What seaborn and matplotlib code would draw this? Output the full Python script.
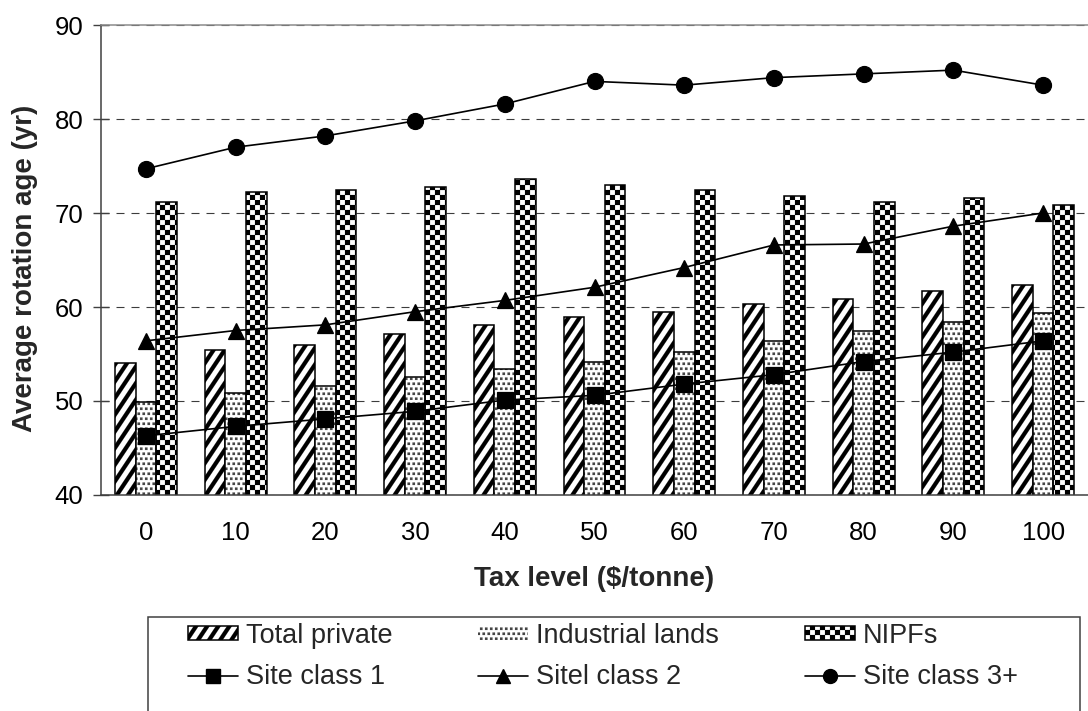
import numpy as np
import pandas as pd
import matplotlib
matplotlib.use('Agg')
import matplotlib.pyplot as plt
import matplotlib.hatch as mhatch
from matplotlib.path import Path
from matplotlib.patches import Rectangle
from matplotlib.lines import Line2D
import seaborn as sns

# values
tax_levels = [0, 10, 20, 30, 40, 50, 60, 70, 80, 90, 100]
total_private = [54.0, 55.4, 56.0, 57.1, 58.1, 58.9, 59.5, 60.3, 60.9, 61.7, 62.3]
industrial_lands = [49.9, 50.9, 51.6, 52.6, 53.4, 54.2, 55.2, 56.4, 57.4, 58.4, 59.4]
nipfs = [71.2, 72.2, 72.4, 72.8, 73.6, 73.0, 72.4, 71.8, 71.2, 71.6, 70.8]
site_class_1 = [46.3, 47.3, 48.1, 48.9, 50.1, 50.6, 51.8, 52.8, 54.2, 55.2, 56.4]
site_class_2 = [56.4, 57.5, 58.1, 59.5, 60.7, 62.1, 64.2, 66.6, 66.7, 68.6, 70.0]
site_class_3 = [74.7, 77.0, 78.2, 79.8, 81.6, 84.0, 83.6, 84.4, 84.8, 85.2, 83.6]

bar_names = ['Total private', 'Industrial lands', 'NIPFs']
line_names = ['Site class 1', 'Sitel class 2', 'Site class 3+']


# Excel-like fill patterns as filled hatch shapes
class FilledHatch(mhatch.HatchPatternBase):
    char = None

    def __init__(self, hatch, density):
        self.polys = self.make_polys() if self.char in hatch else []
        self.num_vertices = 5 * len(self.polys)

    def set_vertices_and_codes(self, vertices, codes):
        for k, poly in enumerate(self.polys):
            vertices[5 * k:5 * k + 4] = poly
            vertices[5 * k + 4] = poly[0]
            codes[5 * k] = Path.MOVETO
            codes[5 * k + 1:5 * k + 4] = Path.LINETO
            codes[5 * k + 4] = Path.CLOSEPOLY


class Stripes(FilledHatch):
    char = '/'

    def make_polys(self):
        n, s = 9, 6 / 9
        t = 0.44 / n
        return [[(k / n, 0), (k / n + t, 0), (k / n + t + s, 1), (k / n + s, 1)]
                for k in range(-8, 10)]


class Dots(FilledHatch):
    char = '.'

    def make_polys(self):
        n = 20
        c = 1 / n
        d = 0.5 * c
        polys = []
        for j in range(n):
            for i in range(n):
                x = (i + 0.5 * (j % 2)) * c
                y = j * c
                polys.append([(x, y), (x + d, y), (x + d, y + d), (x, y + d)])
        return polys


class Checker(FilledHatch):
    char = '*'

    def make_polys(self):
        n = 20
        c = 1 / n
        return [[(i * c, j * c), ((i + 1) * c, j * c), ((i + 1) * c, (j + 1) * c), (i * c, (j + 1) * c)]
                for i in range(n) for j in range(n) if (i + j) % 2 == 0]


mhatch._hatch_types[:] = [Stripes, Dots, Checker]
hatches = ['/', '.', '*']

sns.set_style('white')
plt.rcParams['font.family'] = ['Liberation Sans', 'DejaVu Sans']
plt.rcParams['hatch.linewidth'] = 0.1

bar_df = pd.DataFrame({'tax': tax_levels, bar_names[0]: total_private,
                       bar_names[1]: industrial_lands, bar_names[2]: nipfs})
bar_df = bar_df.melt(id_vars='tax', var_name='group', value_name='age')
line_df = pd.DataFrame({'tax': tax_levels, line_names[0]: site_class_1,
                        line_names[1]: site_class_2, line_names[2]: site_class_3})
line_df = line_df.melt(id_vars='tax', var_name='site', value_name='age')

fig = plt.figure(figsize=(10.88, 7.11), dpi=100)
ax = fig.add_axes([101 / 1088, 1 - 495 / 711, 987 / 1088, 470 / 711])

sns.barplot(data=bar_df, x='tax', y='age', hue='group', hue_order=bar_names,
            palette=['white'] * 3, saturation=1, edgecolor='black', linewidth=1.1,
            width=0.69, errorbar=None, legend=False, ax=ax)
bar_groups = list(ax.containers)

for cont, h in zip(bar_groups, hatches):
    for p in cont:
        p.set_hatch(h)
# dotted bars: grey dots, black outline drawn on top
for p in bar_groups[1]:
    p.set_edgecolor('#454545')
    p.set_linewidth(0)
    ax.add_patch(Rectangle(p.get_xy(), p.get_width(), p.get_height(), fill=False,
                           edgecolor='black', linewidth=1.1, zorder=p.get_zorder()))

sns.pointplot(data=line_df, x='tax', y='age', hue='site', hue_order=line_names,
              palette=['black'] * 3, markers=['s', '^', 'o'], linestyles='-',
              markersize=11.5, linewidth=1.2, errorbar=None, legend=False, ax=ax)

ax.set_ylim(40, 90)
ax.set_yticks(range(40, 91, 10))
ax.set_xlim(-0.5, len(tax_levels) - 0.5)
ax.set_xticks(range(len(tax_levels)))
ax.set_xticklabels([str(t) for t in tax_levels])
ax.set_xticks(np.arange(-0.5, len(tax_levels), 1), minor=True)

ax.yaxis.grid(True, color='#3c3c3c', linewidth=0.8, linestyle=(0, (7.2, 6.3)))
ax.xaxis.grid(False)
ax.set_axisbelow(True)

ax.tick_params(axis='x', which='major', length=0, pad=19, labelsize=18.5, labelcolor='black')
ax.tick_params(axis='x', which='minor', direction='inout', length=11.5, width=1, color='#404040')
ax.tick_params(axis='y', direction='inout', length=11.5, width=1, color='#404040',
               pad=7, labelsize=18.5, labelcolor='black', left=True)

for side in ['left', 'bottom']:
    ax.spines[side].set_color('#404040')
    ax.spines[side].set_linewidth(1.1)
ax.spines['top'].set_color('#8c8c8c')
ax.spines['top'].set_linewidth(1.1)
ax.spines['right'].set_visible(False)

ax.set_xlabel('Tax level ($/tonne)', fontsize=20, fontweight='bold')
ax.set_ylabel('Average rotation age (yr)', fontsize=20, fontweight='bold')
ax.xaxis.set_label_coords(0.5, -0.152)
ax.yaxis.set_label_coords(-0.064, 0.483)

# legend: three bar patterns on top row, three site lines below
bar_handles = [Rectangle((0, 0), 1, 1, facecolor='white', edgecolor='black', linewidth=1.1, hatch='/'),
               Rectangle((0, 0), 1, 1, facecolor='white', edgecolor='#454545', linewidth=0, hatch='.'),
               Rectangle((0, 0), 1, 1, facecolor='white', edgecolor='black', linewidth=1.1, hatch='*')]
line_handles = [Line2D([], [], color='black', linewidth=1.2, marker=m, markersize=10)
                for m in ['s', '^', 'o']]
handles, labels = [], []
for bh, bn, lh, ln in zip(bar_handles, bar_names, line_handles, line_names):
    handles += [bh, lh]
    labels += [bn, ln]

fig.legend(handles, labels, ncol=3, loc='upper left',
           bbox_to_anchor=(188 / 1088, 0.0, 830 / 1088, 1 - 623 / 711),
           mode='expand', frameon=False, borderaxespad=0, borderpad=0,
           fontsize=19.5, handlelength=1.85, handleheight=0.4, handletextpad=0.3,
           labelspacing=0.55)
fig.add_artist(Rectangle((148 / 1088, -0.02), 932 / 1088, 0.02 + 1 - 617 / 711,
                         transform=fig.transFigure, fill=False,
                         edgecolor='#404040', linewidth=1.1))

fig.savefig('out.png', dpi=100)
